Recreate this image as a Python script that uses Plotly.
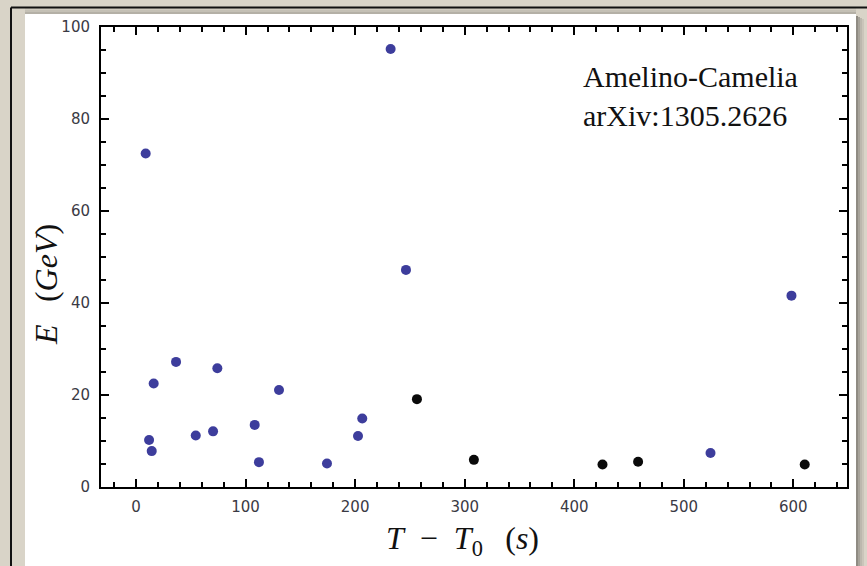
import plotly.graph_objects as go

# ---- data ----
blue_t = [8.8, 11.9, 14.3, 16.1, 36.5, 54.5, 70.3, 74.2, 108.3, 112.2, 130.5,
          174.3, 202.6, 206.5, 232.4, 246.4, 524.4, 598.3]
blue_E = [72.5, 10.2, 7.8, 22.5, 27.2, 11.2, 12.1, 25.8, 13.5, 5.4, 21.1,
          5.1, 11.1, 14.9, 95.2, 47.2, 7.4, 41.6]
black_t = [256.4, 308.4, 425.8, 458.3, 610.4]
black_E = [19.1, 5.9, 4.9, 5.5, 4.9]

x_ticks = [0, 100, 200, 300, 400, 500, 600]
y_ticks = [0, 20, 40, 60, 80, 100]

W, H = 867, 566
L, R, T, B = 101, 20, 27, 79
PW, PH = W - L - R, H - T - B


def px(x):
    return (x - L) / PW


def py(y):
    return (H - B - y) / PH


fig = go.Figure()
fig.add_trace(go.Scatter(x=blue_t, y=blue_E, mode="markers",
                         marker=dict(size=10, color="#3d3d9c", line=dict(width=0)),
                         showlegend=False, hoverinfo="skip"))
fig.add_trace(go.Scatter(x=black_t, y=black_E, mode="markers",
                         marker=dict(size=10, color="#0a0a0a", line=dict(width=0)),
                         showlegend=False, hoverinfo="skip"))

shapes = []
# white slide area
shapes.append(dict(type="rect", xref="paper", yref="paper", layer="below",
                   x0=px(25), x1=px(856), y0=py(14), y1=py(H + 5),
                   fillcolor="white", line=dict(width=0)))
# shadows
for i, c in enumerate(["#8f8b83", "#a7a39a", "#bcb8ae", "#cac5ba"]):
    shapes.append(dict(type="rect", xref="paper", yref="paper", layer="below",
                       x0=px(856 + i * 2), x1=px(858 + i * 2), y0=py(16 + i), y1=py(H + 5),
                       fillcolor=c, line=dict(width=0)))
for i, c in enumerate(["#b4b0a6", "#c4c0b5", "#cfcabf"]):
    shapes.append(dict(type="rect", xref="paper", yref="paper", layer="below",
                       x0=px(25), x1=px(856), y0=py(14 - (i + 1) * 2), y1=py(14 - i * 2),
                       fillcolor=c, line=dict(width=0)))
# black frame lines
shapes.append(dict(type="line", xref="paper", yref="paper", layer="below",
                   x0=px(11), x1=px(W + 5), y0=py(7.5), y1=py(7.5),
                   line=dict(color="#111", width=2)))
shapes.append(dict(type="line", xref="paper", yref="paper", layer="below",
                   x0=px(11), x1=px(11), y0=py(7.5), y1=py(H + 5),
                   line=dict(color="#111", width=2)))

annotations = [
    dict(xref="paper", yref="paper", x=px(581), y=py(134), xanchor="left", yanchor="bottom",
         text="Amelino-Camelia<br>arXiv:1305.2626", align="left", showarrow=False,
         font=dict(family="Liberation Serif", size=30, color="#111")),
    dict(xref="paper", yref="paper", x=px(462), y=py(540), xanchor="center", yanchor="middle",
         text="<i>T</i>\u2002\u2212\u2002<i>T</i><sub>0</sub>\u2002\u2009(<i>s</i>)",
         showarrow=False, font=dict(family="Liberation Serif", size=32, color="#111")),
    dict(xref="paper", yref="paper", x=px(46), y=py(285), xanchor="center", yanchor="middle",
         textangle=-90,
         text="<i>E</i>\u2002\u2009(<i>GeV</i>)",
         showarrow=False, font=dict(family="Liberation Serif", size=32, color="#111")),
]

axis_common = dict(showline=True, linecolor="black", linewidth=2, mirror="allticks",
                   ticks="inside", ticklen=8, tickwidth=2, tickcolor="black",
                   showgrid=False, zeroline=False,
                   tickfont=dict(family="DejaVu Sans", size=15, color="#3a3a44"))

fig.update_xaxes(range=[-32, 649], tickvals=x_ticks,
                 minor=dict(ticks="inside", dtick=20, tick0=0, ticklen=5, tickwidth=2,
                            tickcolor="black", showgrid=False),
                 ticklabelstandoff=5, **axis_common)
fig.update_yaxes(range=[0, 100], tickvals=y_ticks,
                 minor=dict(ticks="inside", dtick=5, tick0=0, ticklen=5, tickwidth=2,
                            tickcolor="black", showgrid=False),
                 ticklabelstandoff=6, **axis_common)

fig.update_layout(width=W, height=H, margin=dict(l=L, r=R, t=T, b=B),
                  paper_bgcolor="#d9d4c8", plot_bgcolor="white",
                  shapes=shapes, annotations=annotations)

fig.write_html("out.html")
